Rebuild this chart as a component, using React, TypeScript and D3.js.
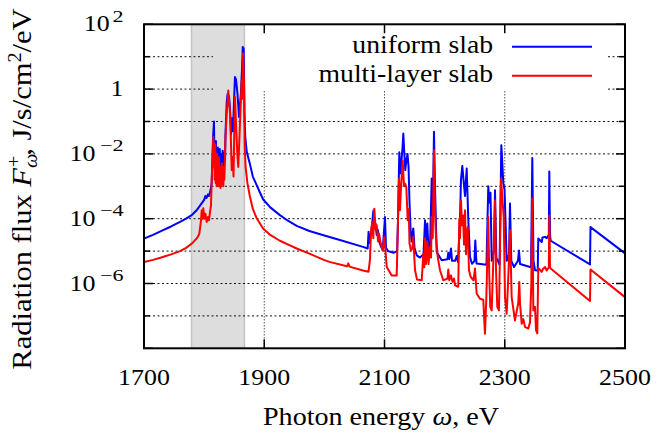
import React from "react";
import * as d3 from "d3";

// ---------------- data ----------------
const energyTicks = [1700, 1900, 2100, 2300, 2500];
const gridEnergies = [1900, 2100, 2300];
const decadeExponents = [2, 1, 0, -1, -2, -3, -4, -5, -6, -7, -8];
const labeledExponents = [2, 0, -2, -4, -6];
const labelBase = ["10", "1", "10", "10", "10"];
const labelSup = ["2", "", "\u22122", "\u22124", "\u22126"];
const shadedBand = [1779, 1867];
const seriesNames = ["uniform slab", "multi-layer slab"];
const seriesColors = ["#0000ff", "#ff0000"];

// [photon energy (eV), log10 of flux (J/s/cm^2/eV)]
const uniformSlab: [number, number][] = [
  [1700, -4.61], [1715, -4.5], [1730, -4.37], [1745, -4.24], [1760, -4.1], [1770, -4.0], [1780, -3.88],
  [1788, -3.73], [1795, -3.55], [1800, -3.42], [1802, -3.3], [1804, -3.36], [1806.4, -3.25],
  [1808, -3.3], [1810, -3.18], [1812.6, -2.9], [1814.8, -1.5], [1816.4, -1.0],
  [1817.2, -2.2], [1818.0, -1.7], [1818.8, -2.4], [1819.6, -1.6], [1820.4, -2.3], [1821.2, -1.9],
  [1822, -2.5], [1822.8, -1.8], [1823.6, -2.4], [1824.4, -1.9], [1825.2, -2.6], [1826, -1.85],
  [1826.8, -2.5], [1827.6, -2.0], [1828.4, -2.6], [1829.2, -2.05], [1830, -2.5], [1830.8, -1.9],
  [1831.6, -2.4], [1832.4, -2.0], [1833.2, -2.5], [1834, -1.95], [1834.8, -2.2], [1835.5, -1.4],
  [1837.5, -0.42], [1838.9, -0.16], [1840.2, -0.5], [1841.4, -0.21], [1843.0, -0.6], [1844.7, -1.4],
  [1846.4, -0.9], [1848.0, -1.3], [1849.7, -0.4], [1851.3, 0.37], [1853.0, 0.3], [1855.2, -0.09],
  [1856.8, -0.5], [1858.0, -0.86], [1859.7, -0.5], [1861.3, -0.1], [1863.0, 0.6], [1864.2, 1.3],
  [1865.8, 1.25], [1867.2, -0.8], [1868.5, -1.5], [1871, -1.95], [1876, -2.3], [1881, -2.7],
  [1887, -2.95], [1893, -3.2], [1898, -3.4], [1910, -3.65], [1926, -3.89], [1940, -4.07], [1954, -4.22],
  [1975, -4.38], [2000, -4.52], [2030, -4.68], [2064.2, -4.87], [2072, -4.92], [2073.5, -4.4],
  [2075.5, -4.75], [2077.5, -4.45], [2079.5, -4.15], [2081.5, -3.75], [2083, -4.3], [2085, -4.15],
  [2087, -4.5], [2089, -4.35], [2091, -4.7], [2094, -4.85], [2097, -4.97], [2100.8, -3.95],
  [2102.5, -4.9], [2106, -5.0], [2115, -5.05], [2121, -5.0], [2122.5, -4.0], [2124.6, -1.95],
  [2126.6, -2.6], [2128.3, -2.2], [2130, -1.8], [2131.3, -1.37], [2133, -2.0], [2134.6, -2.5],
  [2136.3, -2.2], [2138.3, -2.0], [2140, -2.4], [2141.6, -3.5], [2143.3, -4.3], [2145, -4.7],
  [2147.9, -4.3], [2149.9, -4.9], [2153.6, -5.13], [2159, -5.2], [2164.9, -5.1], [2167.4, -4.05],
  [2169, -4.9], [2171.2, -4.15], [2173.2, -5.0], [2175.7, -4.9], [2178.5, -2.76], [2180.2, -4.0],
  [2182.3, -1.32], [2184, -3.0], [2186.8, -5.03], [2195.1, -5.28], [2204.8, -5.25], [2206.1, -5.05],
  [2207.8, -5.25], [2210.6, -4.92], [2212.3, -5.3], [2217.3, -5.3], [2220.1, -5.15], [2222.2, -5.34],
  [2225.6, -4.0], [2227.2, -2.8], [2229.4, -2.37], [2231.7, -2.85], [2233.9, -3.3], [2236.7, -2.45],
  [2239.4, -4.05], [2242.2, -5.18], [2245.5, -5.39], [2249.7, -5.3], [2251, -4.67], [2253, -5.38],
  [2269.6, -5.42], [2272.6, -3.0], [2274.6, -3.5], [2276.3, -3.2], [2278.3, -5.3], [2282.1, -5.0],
  [2283.8, -3.12], [2286, -5.2], [2291.3, -5.42], [2292.9, -3.5], [2294.3, -1.73], [2296, -2.3],
  [2297.6, -2.9], [2299.6, -3.1], [2301.2, -4.0], [2303.2, -5.3], [2307.1, -5.1], [2308.7, -3.53],
  [2310.9, -5.3], [2315.4, -5.49], [2322, -5.3], [2323.7, -4.98], [2325.4, -5.4], [2343.7, -5.5],
  [2345.8, -2.13], [2347.8, -5.3], [2350.3, -5.59], [2354.8, -5.6], [2355.8, -4.61], [2361.5, -4.72],
  [2362.8, -4.58], [2367, -4.56], [2369.8, -4.6], [2373.3, -4.5], [2374.1, -2.54], [2375.3, -4.5],
  [2376.4, -4.68], [2441.8, -5.41], [2442.6, -4.26], [2500, -5.07],
];

const multiLayerSlab: [number, number][] = [
  [1700, -5.34], [1715, -5.27], [1730, -5.19], [1745, -5.1], [1760, -5.0], [1770, -4.9], [1780, -4.76],
  [1788, -4.6], [1792, -4.47], [1794.8, -4.05], [1796, -3.74], [1797.3, -4.0], [1798.6, -3.68],
  [1800.6, -4.0], [1802.3, -3.85], [1804.3, -4.1], [1806.4, -3.95], [1808.1, -4.05], [1809.8, -3.79],
  [1811.4, -3.6], [1812.6, -2.81], [1815.3, -1.48], [1816, -2.4], [1816.8, -1.9], [1817.6, -2.8],
  [1818.4, -1.7], [1819.2, -2.9], [1820, -2.2], [1820.8, -3.0], [1821.6, -2.0], [1822.4, -2.9],
  [1823.2, -2.3], [1824, -3.0], [1824.8, -2.1], [1825.6, -2.8], [1826.4, -2.5], [1827.2, -3.05],
  [1828, -2.4], [1828.8, -2.95], [1829.6, -2.3], [1830.4, -2.9], [1831.2, -2.5], [1832, -3.0],
  [1832.8, -2.4], [1833.6, -2.8], [1834.4, -2.3], [1835.2, -1.6], [1837.5, -0.76], [1840.2, -0.04],
  [1841.9, -0.5], [1843.5, -0.86], [1845.9, -2.5], [1847.5, -2.1], [1848.9, -2.7], [1850, -1.5],
  [1851.3, -0.24], [1853.5, -1.27], [1855.5, -2.1], [1856.8, -2.4], [1858.5, -1.6], [1860.2, -0.76],
  [1862.5, 0.27], [1863.5, -0.3], [1864.7, 1.1], [1866.3, 0.2], [1867.5, -1.8], [1869, -2.4],
  [1872, -2.9], [1876, -3.3], [1881, -3.7], [1887, -3.97], [1898, -4.3], [1910, -4.5], [1926, -4.68],
  [1940, -4.8], [1954, -4.92], [1975, -5.08], [2000, -5.28], [2010, -5.34], [2037.6, -5.47],
  [2039.8, -5.38], [2041.8, -5.48], [2064.2, -5.6], [2073.4, -5.64], [2075.9, -5.25], [2077.5, -4.4],
  [2079.7, -4.1], [2081.4, -4.6], [2083.1, -3.69], [2085.1, -4.3], [2087.1, -4.2], [2089.3, -4.7],
  [2090.9, -4.46], [2093.7, -4.76], [2097, -4.97], [2099.7, -4.56], [2101.3, -4.9], [2103.7, -5.49],
  [2112, -5.75], [2120.3, -5.75], [2122.5, -4.05], [2124.1, -2.77], [2125.8, -3.74], [2127.5, -3.0],
  [2130.3, -2.2], [2132.4, -3.0], [2134.1, -2.92], [2136.3, -3.02], [2138.6, -4.05], [2140.3, -3.7],
  [2141.6, -4.77], [2144.1, -4.98], [2146.6, -4.9], [2147.9, -4.56], [2149.6, -5.2], [2150.8, -5.59],
  [2154.1, -5.88], [2161.9, -5.9], [2164.6, -5.08], [2166.2, -5.5], [2167.4, -4.6], [2169, -5.4],
  [2171.2, -4.7], [2173.2, -5.4], [2175.7, -4.87], [2177.4, -5.2], [2178.5, -3.95], [2180.2, -4.6],
  [2182.3, -1.89], [2184, -3.8], [2185.6, -4.56], [2188.5, -5.18], [2192.3, -5.59], [2197.8, -5.9],
  [2204.8, -5.85], [2206.1, -5.57], [2207.8, -5.9], [2210.6, -5.75], [2213.1, -5.95], [2215.6, -5.85],
  [2217.3, -6.06], [2222.7, -6.1], [2224.4, -4.0], [2225.6, -4.6], [2227.2, -3.43], [2228.9, -4.2],
  [2230.6, -3.9], [2232.3, -4.8], [2233.9, -3.74], [2235.6, -5.1], [2236.7, -4.5], [2238.4, -4.26],
  [2240.5, -5.59], [2243.4, -5.8], [2248, -5.9], [2250.5, -5.54], [2253.3, -6.31], [2258.8, -6.47],
  [2264.3, -6.5], [2267.1, -7.55], [2269.3, -6.5], [2271.3, -5.0], [2272.6, -3.95], [2274.3, -5.8],
  [2275.9, -6.72], [2278.3, -6.83], [2281, -5.28], [2283.8, -3.43], [2285.5, -5.59], [2287.6, -6.72],
  [2290.4, -6.83], [2292.1, -5.0], [2293.8, -2.76], [2295.4, -3.2], [2298.3, -3.95], [2300.4, -6.42],
  [2303.2, -6.93], [2305.9, -5.8], [2308.7, -4.36], [2311.5, -6.42], [2317, -7.14], [2320.4, -6.8],
  [2322.5, -6.6], [2324.2, -5.95], [2325.4, -6.62], [2328.2, -7.24], [2330.9, -7.1], [2333.7, -7.34],
  [2339.2, -7.39], [2342, -7.2], [2344.2, -6.0], [2345.8, -3.38], [2347.5, -6.83], [2350.3, -6.72],
  [2352, -7.44], [2354.1, -7.54], [2355.8, -5.52], [2361.5, -5.64], [2363.6, -5.55], [2367, -5.49],
  [2369.8, -5.6], [2373.3, -5.5], [2374.1, -3.9], [2375.3, -5.5], [2376.4, -5.54], [2441.8, -6.54],
  [2442.6, -5.57], [2500, -6.42],
];

// ---------------- layout ----------------
const W = 658;
const H = 439;
const L = 144;
const R = 625;
const T = 24.3;
const B = 348.3;
const FONT = "'Liberation Serif', 'Times New Roman', serif";

export default function App() {
  const x = d3.scaleLinear().domain([1700, 2500]).range([L, R]);
  const y = d3.scaleLog().domain([1e-8, 100]).range([B, T]);
  const line = d3
    .line<[number, number]>()
    .x((d) => x(d[0]))
    .y((d) => y(Math.pow(10, d[1])));

  const keyLeft = 213;
  const keyRight = 608;
  const keyBottom = 91;

  return (
    <svg
      width={W}
      height={H}
      viewBox={`0 0 ${W} ${H}`}
      style={{ position: "absolute", left: 0, top: 0, background: "#fff" }}
      fontFamily={FONT}
    >
      <defs>
        <clipPath id="plotClip">
          <rect x={L} y={T} width={R - L} height={B - T} />
        </clipPath>
      </defs>
      <rect x={0} y={0} width={W} height={H} fill="#fff" />

      {/* shaded band */}
      <rect
        x={x(shadedBand[0])}
        y={T}
        width={x(shadedBand[1]) - x(shadedBand[0])}
        height={B - T}
        fill="#dddddd"
      />
      <line x1={x(shadedBand[0])} x2={x(shadedBand[0])} y1={T} y2={B} stroke="#c4c4c4" strokeWidth={1.5} />
      <line x1={x(shadedBand[1])} x2={x(shadedBand[1])} y1={T} y2={B} stroke="#c4c4c4" strokeWidth={1.5} />

      {/* horizontal grid */}
      {decadeExponents
        .filter((e) => e < 2 && e > -8)
        .map((e) => {
          const yy = y(Math.pow(10, e));
          const segs = yy < keyBottom ? [[L, keyLeft], [keyRight, R]] : [[L, R]];
          return segs.map((s, i) => (
            <line
              key={`h${e}-${i}`}
              x1={s[0]}
              x2={s[1]}
              y1={yy}
              y2={yy}
              stroke="#111"
              strokeWidth={1}
              strokeDasharray="2,2.5"
            />
          ));
        })}
      {/* vertical grid */}
      {gridEnergies.map((e) => (
        <line
          key={`v${e}`}
          x1={x(e)}
          x2={x(e)}
          y1={keyBottom}
          y2={B}
          stroke="#555"
          strokeWidth={1}
          strokeDasharray="1.5,1.5"
        />
      ))}

      {/* curves */}
      <g clipPath="url(#plotClip)" fill="none" strokeWidth={2} strokeLinejoin="round">
        <path d={line(uniformSlab) || ""} stroke={seriesColors[0]} />
        <path d={line(multiLayerSlab) || ""} stroke={seriesColors[1]} />
      </g>

      {/* ticks */}
      {energyTicks.map((e) => (
        <g key={`xt${e}`}>
          <line x1={x(e)} x2={x(e)} y1={B} y2={B - 9} stroke="#000" strokeWidth={1.5} />
          <line x1={x(e)} x2={x(e)} y1={T} y2={T + 9} stroke="#000" strokeWidth={1.5} />
        </g>
      ))}
      {decadeExponents.map((e) => {
        const yy = y(Math.pow(10, e));
        const len = e % 2 === 0 ? 9 : 6;
        return (
          <g key={`yt${e}`}>
            <line x1={L} x2={L + len} y1={yy} y2={yy} stroke="#000" strokeWidth={1.5} />
            <line x1={R} x2={R - len} y1={yy} y2={yy} stroke="#000" strokeWidth={1.5} />
          </g>
        );
      })}

      {/* frame */}
      <rect x={L} y={T} width={R - L} height={B - T} fill="none" stroke="#000" strokeWidth={2} />

      {/* x tick labels */}
      {energyTicks.map((e) => (
        <text
          key={`xl${e}`}
          transform={`translate(${x(e)},385) scale(1.08,1)`}
          textAnchor="middle"
          fontSize={24}
          fill="#000"
        >
          {e}
        </text>
      ))}
      {/* y tick labels */}
      {labeledExponents.map((e, i) => {
        const base = y(Math.pow(10, e)) + 7;
        const hasSup = labelSup[i] !== "";
        const supW = labelSup[i].length > 1 ? 26.6 : 12.3;
        return (
          <g key={`yl${e}`}>
            <text
              transform={`translate(${hasSup ? 123.5 - supW - 1.5 : 123.5},${base}) scale(1.08,1)`}
              textAnchor="end"
              fontSize={24}
              fill="#000"
            >
              {labelBase[i]}
            </text>
            {hasSup && (
              <text
                transform={`translate(123.5,${base - 9.5}) scale(1.3,1)`}
                textAnchor="end"
                fontSize={17}
                fill="#000"
              >
                {labelSup[i]}
              </text>
            )}
          </g>
        );
      })}

      {/* axis titles */}
      <text transform="translate(381,425) scale(1.08,1)" textAnchor="middle" fontSize={26} fill="#000">
        Photon energy <tspan fontStyle="italic">ω</tspan>, eV
      </text>
      <text transform="translate(31,189) rotate(-90) scale(1.13,1)" textAnchor="middle" fontSize={27} fill="#000">
        Radiation flux <tspan fontStyle="italic">F</tspan>
        <tspan fontSize={18} dy={6} fontStyle="italic">ω</tspan>
        <tspan fontSize={18} dx={-12} dy={-17}>+</tspan>
        <tspan dy={11}>, J/s/cm</tspan>
        <tspan fontSize={18} dy={-10}>2</tspan>
        <tspan dy={10}>/eV</tspan>
      </text>

      {/* legend */}
      {seriesNames.map((n, i) => {
        const ly = i === 0 ? 46.7 : 75.7;
        return (
          <g key={n}>
            <text
              transform={`translate(493,${ly + 6.5}) scale(1.065,1)`}
              textAnchor="end"
              fontSize={26}
              fill="#000"
            >
              {n}
            </text>
            <line x1={512} x2={592} y1={ly} y2={ly} stroke={seriesColors[i]} strokeWidth={2} />
          </g>
        );
      })}
    </svg>
  );
}
